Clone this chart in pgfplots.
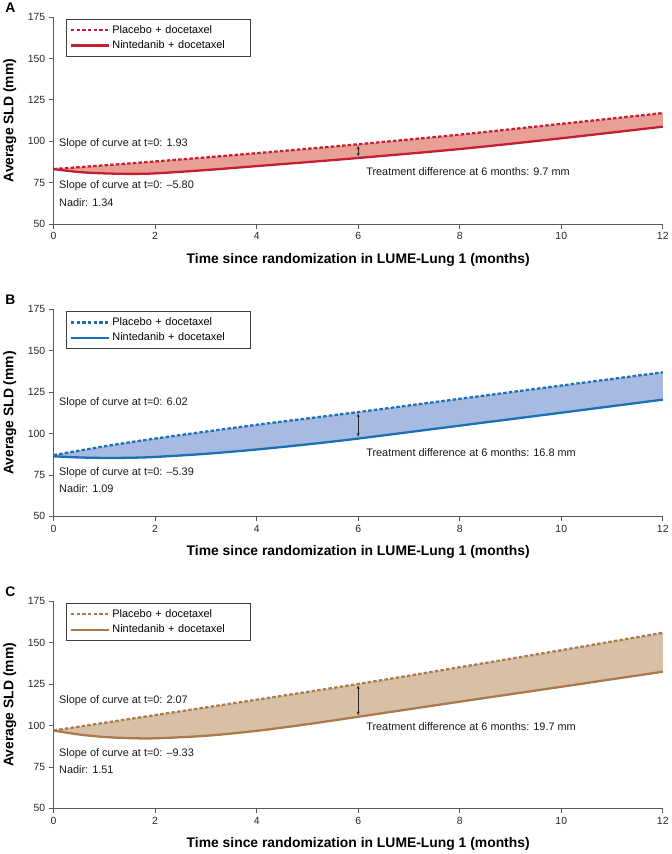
\documentclass[border=0pt]{standalone}
\usepackage{fontspec}
\setmainfont{Liberation Sans}
\usepackage{pgfplots}
\pgfplotsset{compat=1.18}
\usepgfplotslibrary{fillbetween}
\usetikzlibrary{arrows.meta}
\definecolor{redL}{RGB}{196,30,50}
\definecolor{redF}{RGB}{232,160,148}
\definecolor{bluL}{RGB}{26,111,181}
\definecolor{bluF}{RGB}{166,186,226}
\definecolor{brnL}{RGB}{170,121,77}
\definecolor{brnF}{RGB}{216,192,166}
\tikzset{
 ann/.style={anchor=west, font=\fontsize{11}{13}\selectfont, text=black!90},
 dbl/.style={{Stealth[length=3.5bp,width=3bp]}-{Stealth[length=3.5bp,width=3bp]}, line width=0.7pt, black!85},
}
\pgfplotsset{
 panel/.style={
  scale only axis, width=612bp, height=208bp,
  set layers, clip=false,
  xmin=0,xmax=12,ymin=50,ymax=175,
  xtick={0,2,...,12}, ytick={50,75,...,175},
  axis x line*=bottom, axis y line*=left,
  axis line style={-, draw=black!65, line width=0.9pt},
  tick style={draw=black!65, line width=0.9pt},
  tick align=outside, major tick length=5bp,
  /pgf/number format/assume math mode=true,
  ticklabel style={font=\fontsize{10.5}{12}\selectfont, text=black!85},
  xlabel={Time since randomization in LUME-Lung 1 (months)},
  ylabel={Average SLD (mm)},
  label style={font=\bfseries\fontsize{14}{16}\selectfont},
  xlabel style={at={(axis description cs:0.5,0)}, anchor=center, yshift=-36bp},
  ylabel style={at={(axis description cs:-0.0719,0.5)}, anchor=center},
  legend cell align=left,
  legend image code/.code={\draw[##1, line width=2.3bp] (2bp,0bp) -- (40bp,0bp);},
  legend style={at={(axis description cs:0.0196,0.99)}, anchor=north west,
    draw=black!75, line width=0.6pt, font=\fontsize{11}{13}\selectfont,
    inner xsep=4bp, inner ysep=4.5bp, row sep=3bp,
    nodes={inner ysep=1.5bp, inner xsep=2.5bp, text width=132bp, align=left}},
 },
 plac/.style={line width=2.3bp, dash pattern=on 3.5bp off 2.2bp, #1},
 nint/.style={line width=2.3bp, #1},
}
\begin{document}
\begin{tikzpicture}
\path (0,0) rectangle (672bp,854bp);
% ---------- A ----------
\begin{axis}[panel, at={(53bp,630bp)}, anchor=south west]
\addplot[plac=redL, smooth, name path=pA] coordinates {(0,83.2)(2,87.8)(4,92.8)(6,98.2)(8,104)(10,110.5)(12,117)};
\addlegendentry{Placebo + docetaxel}
\addplot[nint=redL, smooth, name path=nA] coordinates {(0,83.2)(0.5,81.4)(1,80.6)(1.5,80.3)(2,80.6)(3,82.6)(4,85.0)(5,87.4)(6,89.9)(8,95.3)(10,101.8)(12,108.8)};
\addlegendentry{Nintedanib + docetaxel}
\addplot[fill=redF, draw=none, forget plot] fill between[of=pA and nA];
\draw[dbl] (axis cs:6,97.2) -- (axis cs:6,90.9);
\node[ann] at (axis cs:0.04,98.6) {Slope of curve at t=0: 1.93};
\node[ann] at (axis cs:0.04,73.3) {Slope of curve at t=0: –5.80};
\node[ann] at (axis cs:0.04,63.2) {Nadir: 1.34};
\node[ann] at (axis cs:6.09,81.7) {Treatment difference at 6 months: 9.7 mm};
\end{axis}
% ---------- B ----------
\begin{axis}[panel, at={(53bp,336.3bp)}, anchor=south west]
\addplot[plac=bluL, smooth, name path=pB] coordinates {(0,87)(1,92.3)(2,97)(4,105.3)(6,113)(8,121)(10,129)(12,137)};
\addlegendentry{Placebo + docetaxel}
\addplot[nint=bluL, smooth, name path=nB] coordinates {(0,86.3)(0.5,85.6)(1,85.3)(1.5,85.4)(2,85.9)(3,87.8)(4,90.4)(5,93.5)(6,97)(8,104.8)(10,112.6)(12,120.5)};
\addlegendentry{Nintedanib + docetaxel}
\addplot[fill=bluF, draw=none, forget plot] fill between[of=pB and nB];
\draw[dbl] (axis cs:6,112.0) -- (axis cs:6,98.2);
\node[ann] at (axis cs:0.04,118.6) {Slope of curve at t=0: 6.02};
\node[ann] at (axis cs:0.04,76.6) {Slope of curve at t=0: –5.39};
\node[ann] at (axis cs:0.04,66.6) {Nadir: 1.09};
\node[ann] at (axis cs:6.09,88.6) {Treatment difference at 6 months: 16.8 mm};
\end{axis}
% ---------- C ----------
\begin{axis}[panel, at={(53bp,43bp)}, anchor=south west]
\addplot[plac=brnL, smooth, name path=pC] coordinates {(0,97)(2,106.3)(4,115.6)(6,125.1)(8,135.2)(10,145.5)(12,156)};
\addlegendentry{Placebo + docetaxel}
\addplot[nint=brnL, smooth, name path=nC] coordinates {(0,97)(0.5,94.6)(1,93.1)(1.5,92.4)(2,92.3)(3,93.8)(4,96.8)(5,100.8)(6,105.3)(8,114.4)(10,123.4)(12,132.5)};
\addlegendentry{Nintedanib + docetaxel}
\addplot[fill=brnF, draw=none, forget plot] fill between[of=pC and nC];
\draw[dbl] (axis cs:6,124.1) -- (axis cs:6,106.3);
\node[ann] at (axis cs:0.04,115.1) {Slope of curve at t=0: 2.07};
\node[ann] at (axis cs:0.04,83.3) {Slope of curve at t=0: –9.33};
\node[ann] at (axis cs:0.04,73.4) {Nadir: 1.51};
\node[ann] at (axis cs:6.09,99.6) {Treatment difference at 6 months: 19.7 mm};
\end{axis}
\node[anchor=west, font=\bfseries\fontsize{14}{16}\selectfont] at (1bp,847bp) {A};
\node[anchor=west, font=\bfseries\fontsize{14}{16}\selectfont] at (1bp,554bp) {B};
\node[anchor=west, font=\bfseries\fontsize{14}{16}\selectfont] at (1bp,261bp) {C};
\end{tikzpicture}
\end{document}
